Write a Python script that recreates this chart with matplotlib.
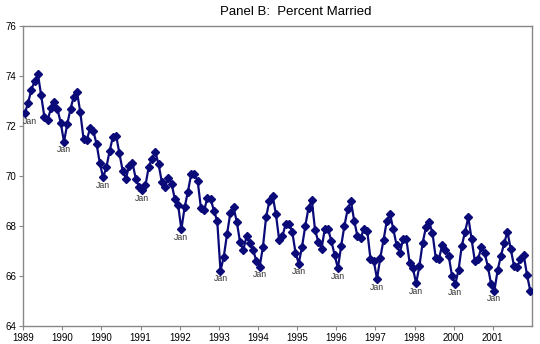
import matplotlib
matplotlib.use("Agg")
import matplotlib.pyplot as plt

# Monthly percent married, Jan 1989 - Dec 2001
pct_1989 = [72.50, 72.92, 73.45, 73.78, 74.07, 73.22, 72.34, 72.23, 72.70, 72.94, 72.67, 72.12]
pct_1990 = [71.36, 72.06, 72.68, 73.16, 73.36, 72.54, 71.48, 71.43, 71.90, 71.79, 71.27, 70.50]
pct_1991 = [69.94, 70.34, 70.99, 71.56, 71.60, 70.90, 70.20, 69.89, 70.41, 70.53, 69.89, 69.56]
pct_1992 = [69.43, 69.63, 70.36, 70.69, 70.96, 70.47, 69.76, 69.54, 69.92, 69.69, 69.06, 68.83]
pct_1993 = [67.86, 68.74, 69.36, 70.06, 70.06, 69.80, 68.70, 68.63, 69.12, 69.06, 68.60, 68.19]
pct_1994 = [66.20, 66.76, 67.66, 68.50, 68.74, 68.16, 67.34, 67.03, 67.59, 67.32, 67.03, 66.59]
pct_1995 = [66.36, 67.14, 68.36, 68.99, 69.20, 68.46, 67.43, 67.59, 68.07, 68.09, 67.76, 66.93]
pct_1996 = [66.49, 67.16, 67.99, 68.72, 69.03, 67.83, 67.36, 67.09, 67.89, 67.86, 67.39, 66.83]
pct_1997 = [66.30, 67.19, 68.00, 68.66, 68.99, 68.20, 67.59, 67.52, 67.89, 67.80, 66.67, 66.60]
pct_1998 = [65.87, 66.72, 67.43, 68.19, 68.46, 67.86, 67.23, 66.92, 67.46, 67.46, 66.52, 66.30]
pct_1999 = [65.70, 66.39, 67.32, 67.94, 68.14, 67.72, 66.72, 66.69, 67.23, 67.03, 66.79, 65.99]
pct_2000 = [65.67, 66.23, 67.20, 67.76, 68.34, 67.47, 66.59, 66.67, 67.14, 66.92, 66.36, 65.66]
pct_2001 = [65.40, 66.23, 66.80, 67.30, 67.76, 67.07, 66.40, 66.36, 66.66, 66.83, 66.03, 65.40]

years_data = [pct_1989, pct_1990, pct_1991, pct_1992, pct_1993, pct_1994, pct_1995,
              pct_1996, pct_1997, pct_1998, pct_1999, pct_2000, pct_2001]
values = [v for yr in years_data for v in yr]
months = list(range(len(values)))

year_tick_labels = ["1989", "1990", "1990", "1991", "1992", "1993", "1994",
                    "1995", "1996", "1997", "1998", "2000", "2001"]
jan_label = "Jan"
y_ticks = [64, 66, 68, 70, 72, 74, 76]

plt.rcParams['font.family'] = ['Liberation Sans', 'DejaVu Sans']

fig = plt.figure(figsize=(5.4, 3.44), dpi=100)
ax = fig.add_axes([0.043, 0.053, 0.942, 0.872])

line_color = "#0a0a78"
ax.plot(months, values, color=line_color, lw=1.6, marker="D", markersize=3.6,
        markerfacecolor=line_color, markeredgecolor=line_color, zorder=3)

for k in range(0, len(values), 12):
    ha = "left" if k == 0 else "center"
    ax.annotate(jan_label, (months[k], values[k]), xytext=(0 if k else -2, -8),
                textcoords="offset pixels", ha=ha, va="center", fontsize=6.3,
                color="#333333", zorder=4)

ax.set_xlim(-0.5, len(values) - 0.5)
ax.set_ylim(64, 76)
ax.set_yticks(y_ticks)
ax.set_yticklabels([str(t) for t in y_ticks])
ax.set_xticks([12 * k - 0.5 for k in range(len(year_tick_labels))])
ax.set_xticklabels(year_tick_labels)

for side in ax.spines.values():
    side.set_color("#888888")
    side.set_linewidth(1.0)

ax.tick_params(axis="both", colors="#888888", labelcolor="#000000",
               labelsize=7, length=3, width=0.8, direction="out", pad=2)

fig.text(296 / 540, 1 - 12 / 344, "Panel B:  Percent Married",
         ha="center", va="center", fontsize=9.5, color="#000000")

fig.savefig("out.png", dpi=100)
